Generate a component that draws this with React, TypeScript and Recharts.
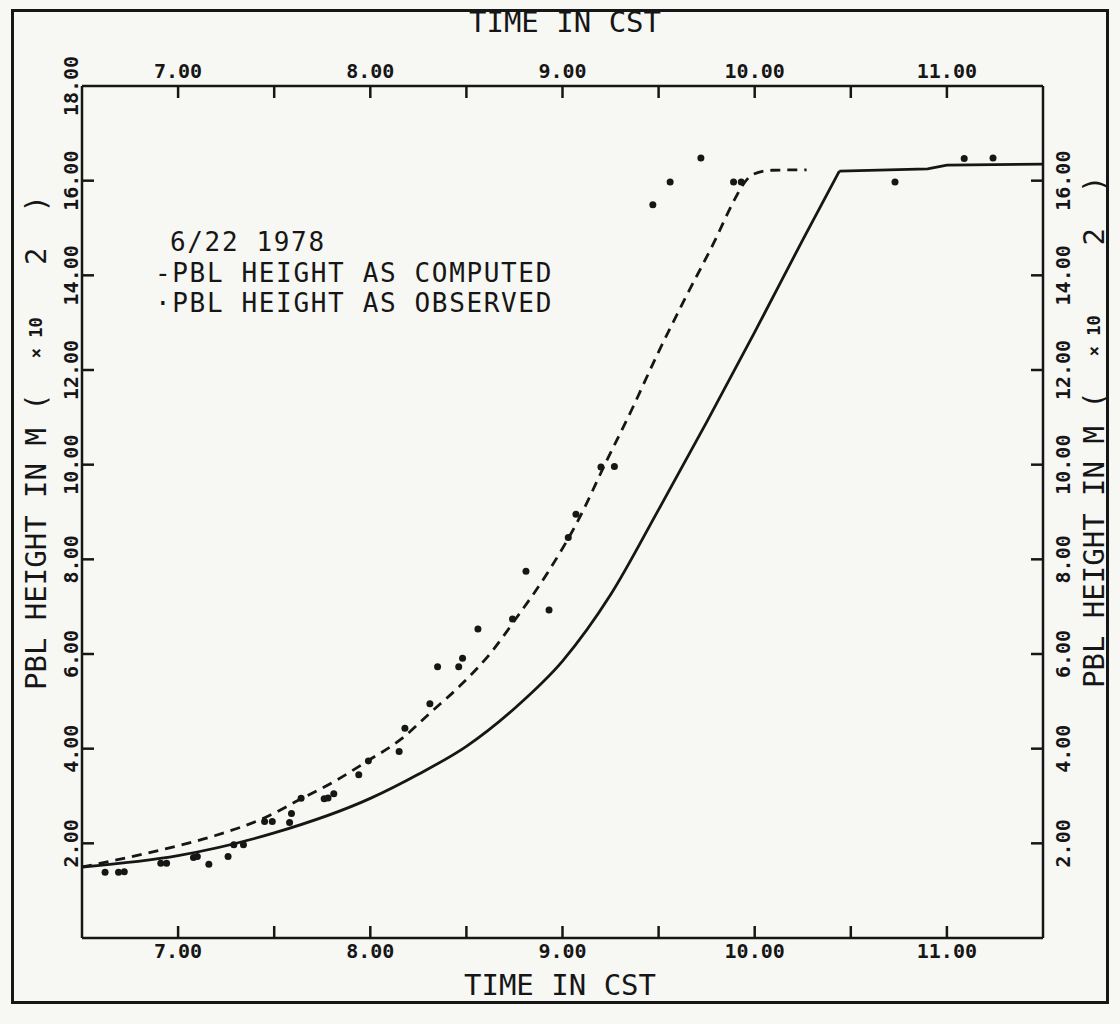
import { ComposedChart, Line, Scatter, XAxis, YAxis } from "recharts";

// time in CST (hours) and PBL height (x 100 m)
// computed curve: growth phase, then the plateau after 10.4 CST
const riseTime = [6.5, 7.0, 7.5, 8.0, 8.25, 8.5, 8.75, 9.0, 9.25, 9.5, 9.75, 10.0, 10.25, 10.44];
const riseHeight = [1.5, 1.74, 2.22, 2.95, 3.46, 4.05, 4.85, 5.85, 7.25, 9.05, 10.9, 12.8, 14.75, 16.2];
const plateauTime = [10.44, 10.9, 11.0, 11.5];
const plateauHeight = [16.2, 16.25, 16.33, 16.35];

const dashedTime = [6.5, 6.9, 7.19, 7.45, 7.64, 7.81, 7.99, 8.16, 8.31, 8.48, 8.63, 8.76, 8.92, 9.09, 9.22, 9.36, 9.49, 9.63, 9.79, 9.89, 9.94, 9.99, 10.09, 10.27];
const dashedHeight = [1.5, 1.85, 2.16, 2.54, 2.94, 3.3, 3.75, 4.2, 4.75, 5.38, 6.04, 6.76, 7.7, 8.89, 10.0, 11.16, 12.3, 13.45, 14.71, 15.56, 15.92, 16.13, 16.22, 16.23];

const observedTime = [6.62, 6.69, 6.72, 6.91, 6.94, 7.08, 7.1, 7.16, 7.26, 7.29, 7.34, 7.45, 7.49, 7.58, 7.59, 7.64, 7.76, 7.78, 7.81, 7.94, 7.99, 8.15, 8.18, 8.31, 8.35, 8.46, 8.48, 8.56, 8.74, 8.81, 8.93, 9.03, 9.07, 9.2, 9.27, 9.47, 9.56, 9.72, 9.89, 9.93, 10.73, 11.09, 11.24];
const observedHeight = [1.39, 1.39, 1.4, 1.58, 1.58, 1.7, 1.72, 1.56, 1.72, 1.97, 1.97, 2.46, 2.46, 2.44, 2.63, 2.95, 2.94, 2.96, 3.05, 3.45, 3.74, 3.94, 4.43, 4.95, 5.73, 5.73, 5.91, 6.53, 6.74, 7.75, 6.93, 8.46, 8.95, 9.95, 9.96, 15.49, 15.97, 16.48, 15.97, 15.97, 15.97, 16.47, 16.48];

const timeTicks = [7, 7.5, 8, 8.5, 9, 9.5, 10, 10.5, 11];
const leftTicks = [2, 4, 6, 8, 10, 12, 14, 16, 18];
const rightTicks = [2, 4, 6, 8, 10, 12, 14, 16];

const INK = "#161616";
const MONO = "'DejaVu Sans Mono', monospace";

const rise = riseTime.map((t, i) => ({ t, v: riseHeight[i] }));
const plateau = plateauTime.map((t, i) => ({ t, v: plateauHeight[i] }));
const dashed = dashedTime.map((t, i) => ({ t, v: dashedHeight[i] }));
const observed = observedTime.map((t, i) => ({ t, v: observedHeight[i] }));

const fmt = (v: number) => v.toFixed(2);

function BottomTick({ x, y, payload }: any) {
  const whole = Number.isInteger(payload.value);
  return (
    <g>
      <line x1={x} y1={y} x2={x} y2={y - 12} stroke={INK} strokeWidth={2.5} />
      {whole && (
        <text x={x} y={y + 20} textAnchor="middle" fontFamily={MONO} fontWeight="bold" fontSize={20} fill={INK}>
          {fmt(payload.value)}
        </text>
      )}
    </g>
  );
}

function TopTick({ x, y, payload }: any) {
  const whole = Number.isInteger(payload.value);
  return (
    <g>
      <line x1={x} y1={y} x2={x} y2={y + 12} stroke={INK} strokeWidth={2.5} />
      {whole && (
        <text x={x} y={y - 8} textAnchor="middle" fontFamily={MONO} fontWeight="bold" fontSize={20} fill={INK}>
          {fmt(payload.value)}
        </text>
      )}
    </g>
  );
}

function LeftTick({ x, y, payload }: any) {
  const cx = x - 11;
  return (
    <g>
      {payload.value < 18 && <line x1={x} y1={y} x2={x + 12} y2={y} stroke={INK} strokeWidth={2.5} />}
      <text
        x={cx}
        y={y}
        textAnchor="middle"
        dominantBaseline="central"
        transform={`rotate(-90, ${cx}, ${y})`}
        fontFamily={MONO}
        fontWeight="bold"
        fontSize={20}
        fill={INK}
      >
        {fmt(payload.value)}
      </text>
    </g>
  );
}

function RightTick({ x, y, payload }: any) {
  const cx = x + 20;
  return (
    <g>
      <line x1={x} y1={y} x2={x - 12} y2={y} stroke={INK} strokeWidth={2.5} />
      <text
        x={cx}
        y={y}
        textAnchor="middle"
        dominantBaseline="central"
        transform={`rotate(-90, ${cx}, ${y})`}
        fontFamily={MONO}
        fontWeight="bold"
        fontSize={20}
        fill={INK}
      >
        {fmt(payload.value)}
      </text>
    </g>
  );
}

function Dot({ cx, cy }: any) {
  return <circle cx={cx} cy={cy} r={3.5} fill={INK} />;
}

function YTitle({ cx, y0, tail }: { cx: number; y0: number; tail: string }) {
  return (
    <text
      x={cx}
      y={y0}
      textAnchor="start"
      dominantBaseline="central"
      transform={`rotate(-90, ${cx}, ${y0})`}
      fontFamily={MONO}
      fontSize={29}
      fill={INK}
      style={{ whiteSpace: "pre" }}
    >
      {"PBL HEIGHT IN M (  "}
      <tspan fontSize={17} fontWeight="bold">
        {"× 10"}
      </tspan>
      {tail}
    </text>
  );
}

const axisLine = { stroke: INK, strokeWidth: 2.5 };
const legendText = { fontFamily: MONO, fontSize: 26, letterSpacing: 1.65, fill: INK };

export default function App() {
  return (
    <div style={{ position: "absolute", left: 0, top: 0, width: 1120, height: 1024, background: "#f7f7f4" }}>
      <div
        style={{
          position: "absolute",
          left: 11,
          top: 9,
          width: 1098,
          height: 995,
          border: `3px solid ${INK}`,
          boxSizing: "border-box",
        }}
      />
      <div style={{ position: "absolute", left: 0, top: 0 }}>
        <ComposedChart width={1120} height={1024} margin={{ top: 46, right: 27, bottom: 46, left: 32 }}>
          <XAxis
            xAxisId="bottom"
            dataKey="t"
            type="number"
            domain={[6.5, 11.5]}
            allowDataOverflow
            ticks={timeTicks}
            interval={0}
            height={40}
            tickSize={0}
            tickMargin={0}
            axisLine={axisLine}
            tickLine={false}
            tick={<BottomTick />}
          />
          <XAxis
            xAxisId="top"
            orientation="top"
            dataKey="t"
            type="number"
            domain={[6.5, 11.5]}
            allowDataOverflow
            ticks={timeTicks}
            interval={0}
            height={40}
            tickSize={0}
            tickMargin={0}
            axisLine={axisLine}
            tickLine={false}
            tick={<TopTick />}
          />
          <YAxis
            yAxisId="left"
            dataKey="v"
            type="number"
            domain={[0, 18]}
            allowDataOverflow
            ticks={leftTicks}
            interval={0}
            width={50}
            tickSize={0}
            tickMargin={0}
            axisLine={axisLine}
            tickLine={false}
            tick={<LeftTick />}
          />
          <YAxis
            yAxisId="right"
            orientation="right"
            dataKey="v"
            type="number"
            domain={[0, 18]}
            allowDataOverflow
            ticks={rightTicks}
            interval={0}
            width={50}
            tickSize={0}
            tickMargin={0}
            axisLine={axisLine}
            tickLine={false}
            tick={<RightTick />}
          />
          <Line
            xAxisId="bottom"
            yAxisId="left"
            data={rise}
            dataKey="v"
            type="monotone"
            stroke={INK}
            strokeWidth={2.8}
            dot={false}
            isAnimationActive={false}
          />
          <Line
            xAxisId="bottom"
            yAxisId="left"
            data={plateau}
            dataKey="v"
            type="linear"
            stroke={INK}
            strokeWidth={2.8}
            dot={false}
            isAnimationActive={false}
          />
          <Line
            xAxisId="bottom"
            yAxisId="left"
            data={dashed}
            dataKey="v"
            type="monotone"
            stroke={INK}
            strokeWidth={2.8}
            strokeDasharray="10 7"
            dot={false}
            isAnimationActive={false}
          />
          <Scatter
            xAxisId="bottom"
            yAxisId="left"
            data={observed}
            dataKey="v"
            shape={<Dot />}
            isAnimationActive={false}
          />
        </ComposedChart>
      </div>
      <svg width={1120} height={1024} style={{ position: "absolute", left: 0, top: 0, pointerEvents: "none" }}>
        <text x={565} y={32} textAnchor="middle" fontFamily={MONO} fontSize={29} fill={INK}>
          TIME IN CST
        </text>
        <text x={560} y={995} textAnchor="middle" fontFamily={MONO} fontSize={29} fill={INK}>
          TIME IN CST
        </text>
        <YTitle cx={36} y0={690} tail={"   2  )"} />
        <YTitle cx={1094} y0={688} tail={"    2  )"} />
        <text x={170} y={251} {...legendText}>
          6/22 1978
        </text>
        <text x={155} y={281.5} {...legendText}>
          -PBL HEIGHT AS COMPUTED
        </text>
        <text x={155} y={312} {...legendText}>
          ·PBL HEIGHT AS OBSERVED
        </text>
      </svg>
    </div>
  );
}
